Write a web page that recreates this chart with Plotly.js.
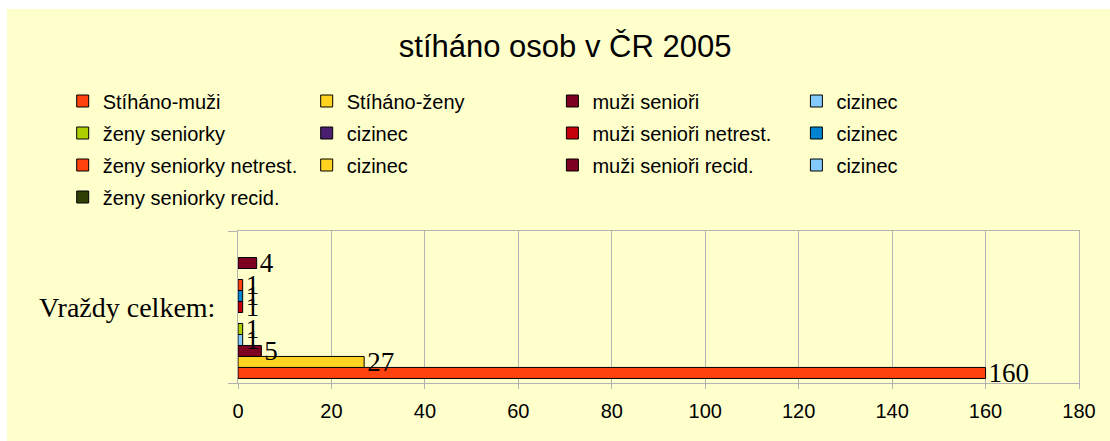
<!DOCTYPE html>
<html>
<head>
<meta charset="utf-8">
<script src="https://cdn.plot.ly/plotly-3.0.1.min.js"></script>
<style>
  html, body { margin: 0; padding: 0; background: #ffffff; }
  #chart { position: absolute; left: 7px; top: 9px; width: 1103px; height: 432px; }
</style>
</head>
<body>
<div id="chart"></div>
<script>
// ---- data ----
const category = ['Vraždy celkem:'];
const seriesNames = ['Stíháno-muži', 'Stíháno-ženy', 'muži senioři', 'cizinec',
  'ženy seniorky', 'cizinec', 'muži senioři netrest.', 'cizinec',
  'ženy seniorky netrest.', 'cizinec', 'muži senioři recid.', 'cizinec',
  'ženy seniorky recid.'];
const seriesValues = [160, 27, 5, 1, 1, 0, 1, 1, 1, 0, 4, 0, 0];
const xTicks = [0, 20, 40, 60, 80, 100, 120, 140, 160, 180];
const titleText = 'stíháno osob v ČR 2005';

// ---- style ----
const colors = ['#FF420E', '#FFD320', '#7E0021', '#83CAFF', '#AECF00', '#4B1F6F',
  '#C5000B', '#0084D1', '#FF420E', '#FFD320', '#7E0021', '#83CAFF', '#314004'];
const legendIds = ['legend', 'legend2', 'legend3', 'legend4'];
const colTextX = [103, 347, 592.7, 836.7]; // page px where legend text starts
const W = 1103, H = 432;

const traces = seriesNames.map((name, i) => ({
  type: 'bar',
  orientation: 'h',
  name: name,
  y: category,
  // zero-length bars are left undrawn (as in the reference), value stays in seriesValues
  x: [seriesValues[i] === 0 ? null : seriesValues[i]],
  text: [seriesValues[i] ? String(seriesValues[i]) : ''],
  textposition: 'outside',
  constraintext: 'none',
  cliponaxis: false,
  textfont: { family: 'Liberation Serif, Times New Roman, serif', size: 27, color: '#000000' },
  marker: { color: colors[i], line: { color: '#000000', width: 1 } },
  legend: legendIds[i % 4],
  legendgroup: 'g' + i,
  hoverinfo: 'name+x'
}));

const legendBase = {
  orientation: 'v',
  traceorder: 'grouped',
  tracegroupgap: 3,
  xref: 'container',
  yref: 'container',
  xanchor: 'left',
  yanchor: 'top',
  y: 1 - 72.5 / H,
  bgcolor: 'rgba(0,0,0,0)',
  borderwidth: 0,
  font: { family: 'Liberation Sans, Arial, sans-serif', size: 20, color: '#000000' }
};
const layout = {
  width: W,
  height: H,
  paper_bgcolor: '#FFFFCC',
  plot_bgcolor: '#FFFFCC',
  margin: { l: 231, r: 31, t: 222, b: 58, autoexpand: false },
  barmode: 'group',
  bargap: 0.06,
  bargroupgap: 0,
  showlegend: true,
  title: {
    text: titleText,
    font: { family: 'Liberation Sans, Arial, sans-serif', size: 31, color: '#000000' },
    xref: 'container', yref: 'container',
    x: 0.506, xanchor: 'center',
    y: 1 - 37 / H, yanchor: 'middle'
  },
  xaxis: {
    range: [0, 180],
    tickvals: xTicks,
    ticktext: xTicks.map(String),
    showgrid: true,
    gridcolor: '#B3B3B3',
    gridwidth: 1,
    zeroline: false,
    showline: true,
    linecolor: '#B3B3B3',
    linewidth: 1,
    mirror: true,
    ticks: 'outside',
    ticklen: 5,
    tickcolor: '#B3B3B3',
    ticklabelstandoff: 5,
    tickfont: { family: 'Liberation Sans, Arial, sans-serif', size: 20, color: '#000000' },
    fixedrange: true,
    automargin: false
  },
  yaxis: {
    type: 'category',
    showgrid: false,
    zeroline: false,
    showline: true,
    linecolor: '#B3B3B3',
    linewidth: 1,
    mirror: true,
    ticks: 'outside',
    tickson: 'boundaries',
    ticklen: 9,
    tickcolor: '#B3B3B3',
    ticklabelstandoff: 16,
    tickfont: { family: 'Liberation Serif, Times New Roman, serif', size: 28, color: '#000000' },
    fixedrange: true,
    automargin: false
  }
};
legendIds.forEach((id, c) => {
  layout[id] = Object.assign({}, legendBase, { x: (colTextX[c] - 47.3) / W });
});

Plotly.newPlot('chart', traces, layout, { displayModeBar: false, staticPlot: true });
</script>
</body>
</html>
